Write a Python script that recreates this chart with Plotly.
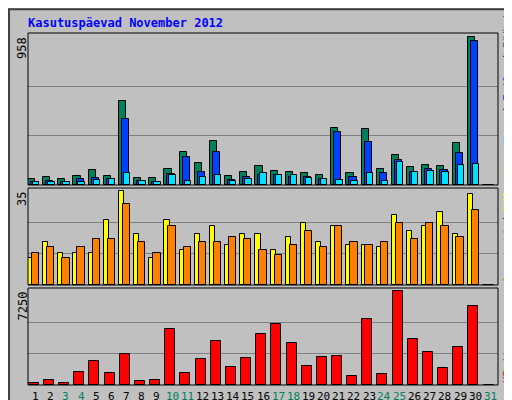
import plotly.graph_objects as go

days = list(range(1, 32))
hits  = [41,54,41,61,100,61,548,48,48,106,217,145,288,61,87,126,93,87,80,67,373,80,366,106,197,119,132,126,275,958,0]
files = [22,28,22,41,48,41,431,28,22,74,184,87,217,35,54,67,67,54,54,41,347,54,282,80,165,87,106,100,210,932,0]
pages = [22,22,22,22,35,41,80,28,22,67,28,54,67,28,41,80,67,67,48,41,35,28,80,28,152,87,93,87,132,139,0]
visits = [10,16,12,12,12,24,35,19,10,24,13,19,22,15,19,19,13,18,23,16,22,15,15,14,26,20,22,27,19,34,0]
sites  = [12,14,10,14,17,17,30,16,12,22,14,16,16,18,17,13,11,15,20,14,22,16,15,16,23,17,23,22,18,28,0]
kbytes = [185,423,185,979,1852,900,2408,344,423,4313,900,2011,3360,1376,2090,3916,4710,3202,1455,2170,2249,662,5107,820,7250,3519,2567,1297,2964,6059,0]
weekend = {3,4,10,11,17,18,24,25,31}
max1, max2, max3 = 958, 35, 7250

W, H = 512, 400
def py(p): return 1 - p / H
x0, x1 = 20 / W, 490 / W
doms = [(py(177), py(25)), (py(277), py(180)), (py(377), py(280))]

fig = go.Figure()
line = dict(color="black", width=1)
def bar(y, color, off, wid, ax):
    fig.add_trace(go.Bar(x=days, y=y, marker=dict(color=color, line=line), offset=off, width=wid,
                         xaxis="x" + ax, yaxis="y" + ax, showlegend=False, hoverinfo="skip"))

bar(hits, "#00805c", -0.5, 0.47, "")
bar(files, "#0040ff", -0.3, 0.47, "")
bar(pages, "#00e0ff", -0.17, 0.42, "")
bar(visits, "#ffff00", -0.5, 0.34, "2")
bar(sites, "#ff8000", -0.24, 0.48, "2")
bar(kbytes, "#ff0000", -0.45, 0.66, "3")

mono = "DejaVu Sans Mono"
lay = dict(width=W, height=H, margin=dict(l=0, r=0, t=0, b=0, autoexpand=False), paper_bgcolor="#c0c0c0",
           plot_bgcolor="#c0c0c0", bargap=0, font=dict(family=mono, size=11, color="black"))
for i, (ax, m) in enumerate(zip(["", "2", "3"], [max1, max2, max3])):
    lay["xaxis" + ax] = dict(domain=[x0, x1], range=[0.5, 31.5], anchor="y" + ax,
                             showgrid=False, zeroline=False, ticks="", showticklabels=False,
                             automargin=False)
    lay["yaxis" + ax] = dict(domain=list(doms[i]), range=[0, m * 1.03], anchor="x" + ax,
                             tickvals=[m / 3, 2 * m / 3], showticklabels=False, automargin=False,
                             gridcolor="#808080", gridwidth=1, zeroline=False)
fig.update_layout(**lay)

shapes = [dict(type="rect", xref="paper", yref="paper", x0=0.002, x1=0.998, y0=0.003, y1=0.997,
               line=dict(color="#404040", width=2))]
for d0, d1 in doms:
    shapes.append(dict(type="rect", xref="paper", yref="paper", x0=x0, x1=x1, y0=d0, y1=d1,
                       line=dict(color="black", width=1)))
fig.update_layout(shapes=shapes)

ann = [dict(x=18 / W, y=py(15), xref="paper", yref="paper", xanchor="left", yanchor="middle",
            showarrow=False, text="<b>Kasutuspäevad November 2012</b>",
            font=dict(family=mono, size=12, color="#0000ff"))]
for d in days:
    ann.append(dict(x=d, y=py(388), xref="x3", yref="paper", xanchor="center", yanchor="middle",
                    showarrow=False, text=str(d),
                    font=dict(family=mono, size=11, color="#00805c" if d in weekend else "black")))
for (d0, d1), m in zip(doms, [max1, max2, max3]):
    ann.append(dict(x=14 / W, y=d1 - 0.005, xref="paper", yref="paper", xanchor="center", yanchor="top",
                    showarrow=False, text=str(m), textangle=-90, font=dict(family=mono, size=12)))
rfont = dict(family=mono, size=11, color="black")
ann.append(dict(x=499 / W, y=doms[0][0] + 0.005, xref="paper", yref="paper", xanchor="center", yanchor="bottom",
                showarrow=False, textangle=-90,
                text="<span style='color:#00e0ff'>Lehekülgi</span> / <span style='color:#0040ff'>Faile</span> / <span style='color:#00805c'>Pöördumisi</span>",
                font=rfont))
ann.append(dict(x=499 / W, y=doms[1][0], xref="paper", yref="paper", xanchor="center", yanchor="bottom",
                showarrow=False, textangle=-90,
                text="<span style='color:#ff8000'>Arvuteid</span> / <span style='color:#ffff00'>Külastusi</span>",
                font=rfont))
ann.append(dict(x=499 / W, y=doms[2][0], xref="paper", yref="paper", xanchor="center", yanchor="bottom",
                showarrow=False, textangle=-90, text="KBaite",
                font=dict(family=mono, size=11, color="#ff0000")))
fig.update_layout(annotations=ann)
fig.write_html("out.html")
